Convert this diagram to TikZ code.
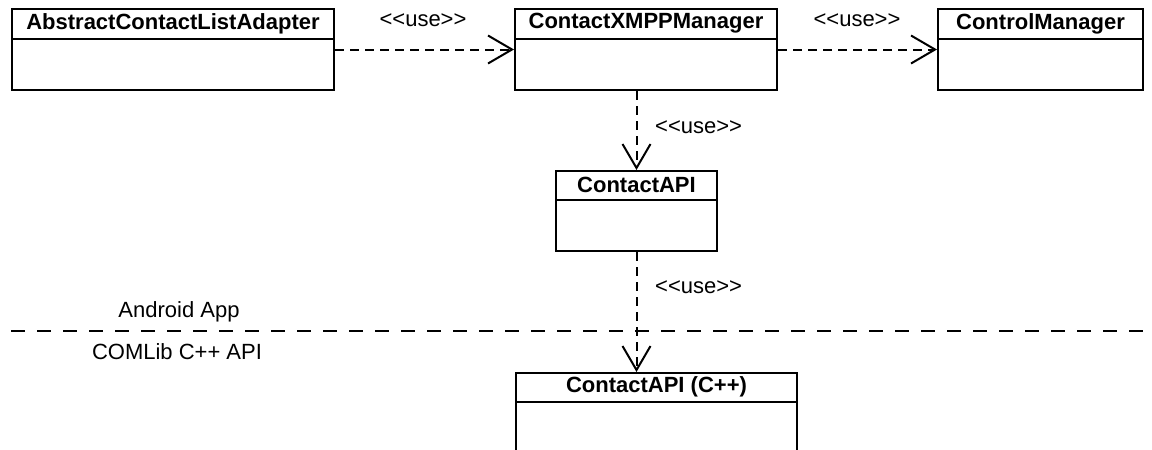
\documentclass[tikz,border=0pt]{standalone}
\usepackage{fontspec}
\setmainfont{Liberation Sans}
\usetikzlibrary{arrows.meta,calc}

% <<...>> written with kerns so the font mapping keeps plain angle brackets
\newcommand\usestereo[1]{<\kern0pt<#1>\kern0pt>}

\tikzset{
  classbox/.style={draw, line width=2pt, rectangle, anchor=north west, inner sep=0pt},
  headrule/.style={line width=2pt},
  classname/.style={font=\bfseries\fontsize{22pt}{26pt}\selectfont, inner sep=0pt},
  stereo/.style={font=\fontsize{22pt}{26pt}\selectfont, inner sep=0pt},
  layerlabel/.style={font=\fontsize{22pt}{26pt}\selectfont, inner sep=0pt},
  usedep/.style={line width=2pt, dash pattern=on 9pt off 6pt,
    -{Straight Barb[length=24pt,width=28pt,line width=2pt]}},
  layerline/.style={line width=2pt, dash pattern=on 14pt off 12pt},
}

\begin{document}
\begin{tikzpicture}[x=1pt,y=-1pt]
\clip (0,0) rectangle (1152,450);
\fill[white] (0,0) rectangle (1152,450);

% class boxes
\node[classbox, minimum width=322pt, minimum height=81pt] (acla) at (11,8) {};
\node[classbox, minimum width=262pt, minimum height=81pt] (cxm) at (514,8) {};
\node[classbox, minimum width=205pt, minimum height=81pt] (ctl) at (937,8) {};
\node[classbox, minimum width=161pt, minimum height=80pt] (capi) at (555,170) {};
\node[classbox, minimum width=281pt, minimum height=120pt] (cpp) at (515,372) {};

% name compartments
\foreach \c/\h in {acla/31,cxm/31,ctl/31,capi/30,cpp/30}{
  \draw[headrule] ($(\c.north west)+(0,\h)$) -- ($(\c.north east)+(0,\h)$);
}
\node[classname] (acla-n) at ($(acla.north)+(0,15.5)$) {AbstractContactListAdapter};
\node[classname] (cxm-n) at ($(cxm.north)+(0,15.5)$) {ContactXMPPManager};
\node[classname] (ctl-n) at ($(ctl.north)+(0,15.5)$) {ControlManager};
\node[classname] (capi-n) at ($(capi.north)+(0,15)$) {ContactAPI};
\node[classname] (cpp-n) at ($(cpp.north)+(0,15)$) {ContactAPI (C++)};

% layer boundary
\coordinate (sepL) at (11,331);
\coordinate (sepR) at (1152,331);
\draw[layerline] (sepL) -- (sepR);
\node[layerlabel] (app) at (179,312) {Android App};
\node[layerlabel] (lib) at (177,352) {COMLib C++ API};

% dependencies
\draw[usedep] (acla.east) -- (cxm.west);
\draw[usedep] (cxm.east) -- (ctl.west);
\draw[usedep] (cxm.south -| capi.north) -- (capi.north);
\draw[usedep] (capi.south) -- (capi.south |- cpp.north);

\node[stereo] (u1) at (423,20) {\usestereo{use}};
\node[stereo] (u2) at (857,20) {\usestereo{use}};
\node[stereo, anchor=west] (u3) at (655,127) {\usestereo{use}};
\node[stereo, anchor=west] (u4) at (655,287) {\usestereo{use}};
\end{tikzpicture}
\end{document}
